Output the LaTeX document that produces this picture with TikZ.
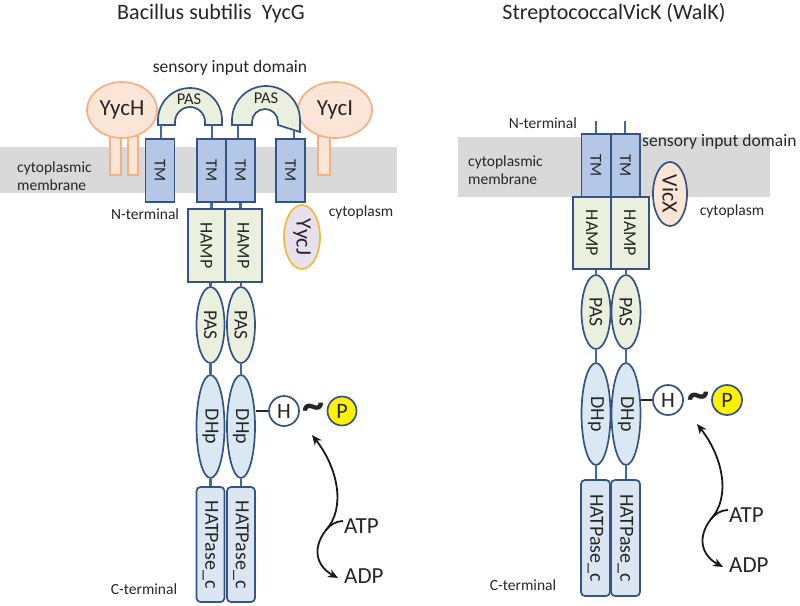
\documentclass[tikz,border=0pt]{standalone}
\usepackage{fontspec}
\setmainfont{Carlito}
\usepackage{graphicx}
\usetikzlibrary{shapes.geometric,arrows.meta}
\definecolor{outl}{RGB}{52,84,132}
\definecolor{connc}{RGB}{62,105,165}
\definecolor{tmfill}{RGB}{180,199,231}
\definecolor{grfill}{RGB}{235,240,222}
\definecolor{dhfill}{RGB}{218,232,243}
\definecolor{hatfill}{RGB}{220,230,242}
\definecolor{memb}{RGB}{217,217,217}
\definecolor{orout}{RGB}{244,177,131}
\definecolor{orfill}{RGB}{251,229,214}
\definecolor{goldout}{RGB}{240,188,50}
\definecolor{lavfill}{RGB}{232,224,236}
\definecolor{txt}{RGB}{38,38,38}
\definecolor{yel}{RGB}{255,242,0}
\newcommand{\rtxt}[1]{\rotatebox{-90}{#1}}
\begin{document}
\begin{tikzpicture}[x=1pt,y=-1pt,
  every node/.style={inner sep=0pt,text=txt},
  shp/.style={draw=outl,line width=1.7pt},
  tmbox/.style={shp,fill=tmfill,rectangle,minimum width=29,minimum height=63,font=\fontsize{16.5}{16.5}\selectfont},
  hampbox/.style={shp,fill=grfill,rectangle,minimum width=37,minimum height=73,font=\fontsize{18}{18}\selectfont},
  pasell/.style={shp,fill=grfill,ellipse,minimum width=28,minimum height=76,font=\fontsize{19.5}{19.5}\selectfont},
  dhpell/.style={shp,fill=dhfill,ellipse,minimum width=28,minimum height=103,font=\fontsize{20}{20}\selectfont},
  hatbox/.style={shp,fill=hatfill,rectangle,rounded corners=4pt,minimum width=28,minimum height=115,font=\fontsize{20}{20}\selectfont},
  circh/.style={shp,fill=white,circle,minimum size=30,font=\fontsize{22}{22}\selectfont},
  circp/.style={shp,fill=yel,circle,minimum size=29,font=\fontsize{22}{22}\selectfont},
  conn/.style={draw=connc,line width=2.6pt},
  hline/.style={draw=black!85,line width=1.6pt},
  orell/.style={draw=orout,fill=orfill,line width=1.7pt,ellipse,font=\fontsize{23}{23}\selectfont},
  orleg/.style={draw=orout,fill=orfill,line width=1.5pt},
  lbl/.style={font=\fontsize{15.5}{15.5}\selectfont,anchor=base},
  bigl/.style={font=\fontsize{17.5}{17.5}\selectfont,anchor=base},
  ttl/.style={font=\fontsize{22}{22}\selectfont,anchor=base},
  rxn/.style={font=\fontsize{23}{23}\selectfont,anchor=base west},
  arr/.style={line width=1.8pt,draw=black!90,{Stealth[length=10pt,width=8.5pt]}-{Stealth[length=10pt,width=8.5pt]}},
  br/.style={line width=1.8pt,draw=black!90},
  tld/.style={font=\fontsize{44}{44}\selectfont\bfseries}
]
\useasboundingbox (0,0) rectangle (800,605);

% ---------- titles ----------
\node[ttl] (t1) at (211,19) {Bacillus subtilis\ \ YycG};
\node[ttl] (t2) at (614,19) {StreptococcalVicK (WalK)};

% ---------- membranes ----------
\fill[memb] (0,147) rectangle (397,193);
\fill[memb] (458,137) rectangle (770,197);

% ============ LEFT: Bacillus subtilis ============
\node[bigl] (sens1) at (230,72.5) {sensory input domain};
\node[lbl,anchor=base west] (cm1) at (17,172) {cytoplasmic};
\node[lbl,anchor=base west] (mb1) at (17,190) {membrane};
\node[lbl] (nt1) at (145,219) {N-terminal};
\node[lbl] (cy1) at (361,216) {cytoplasm};
\node[lbl] (ct1) at (144,594) {C-terminal};

% YycH / YycI legs
\draw[orleg] (110,136) rectangle (121,175);
\draw[orleg] (128,136) rectangle (138,175);
\draw[orleg] (318,136) rectangle (330,175);
\node[orell,minimum width=70,minimum height=56] (ych) at (122,110) {YycH};
\node[orell,minimum width=74,minimum height=56] (yci) at (335,110) {YycI};

% PAS arches (sensory domain)
\draw[shp,fill=grfill] (158,125) -- (158,120) arc[start angle=180,end angle=360,radius=32]
  -- (222,125) -- (205,125) -- (205,122) arc[start angle=360,end angle=180,radius=15]
  -- (175,125) -- cycle;
\node[font=\fontsize{16.5}{16.5}\selectfont] (pasa1) at (189,99) {PAS};
\draw[shp,fill=grfill] (232,125) -- (232,120) arc[start angle=180,end angle=360,radius=34]
  -- (300,132) -- (278,125) -- (278,122) arc[start angle=360,end angle=180,radius=13]
  -- (252,125) -- cycle;
\node[font=\fontsize{16.5}{16.5}\selectfont] (pasa2) at (266,98) {PAS};
\coordinate (a1l) at (161,125);
\coordinate (a1r) at (212,125);
\coordinate (a2l) at (238,125);
\coordinate (a2r) at (294,129);

% TM
\node[tmbox] (tm1) at (160,170.5) {\rtxt{TM}};
\node[tmbox] (tm2) at (211.5,170.5) {\rtxt{TM}};
\node[tmbox] (tm3) at (240.5,170.5) {\rtxt{TM}};
\node[tmbox] (tm4) at (290.5,170.5) {\rtxt{TM}};
\draw[conn] (a1l) -- (a1l |- tm1.north);
\draw[conn] (a1r) -- (a1r |- tm2.north);
\draw[conn] (a2l) -- (a2l |- tm3.north);
\draw[conn] (a2r) -- (a2r |- tm4.north);

% YycJ
\node[draw=goldout,fill=lavfill,line width=1.7pt,ellipse,minimum width=36,minimum height=64,
  font=\fontsize{22}{22}\selectfont] (ycj) at (302,237) {\rtxt{YycJ}};

% HAMP
\node[hampbox] (hp1) at (206.5,245.5) {\rtxt{HAMP}};
\node[hampbox] (hp2) at (243.5,245.5) {\rtxt{HAMP}};
\draw[conn] (tm2.south) -- (tm2.south |- hp1.north);
\draw[conn] (tm3.south) -- (tm3.south |- hp2.north);

% PAS
\node[pasell] (ps1) at (210.5,325) {\rtxt{PAS}};
\node[pasell] (ps2) at (241,325) {\rtxt{PAS}};
\draw[conn] (ps1.north |- hp1.south) -- (ps1.north);
\draw[conn] (ps2.north |- hp2.south) -- (ps2.north);

% DHp
\node[dhpell] (dh1) at (210.5,426.5) {\rtxt{DHp}};
\node[dhpell] (dh2) at (241,426.5) {\rtxt{DHp}};
\draw[conn] (ps1.south) -- (dh1.north);
\draw[conn] (ps2.south) -- (dh2.north);

% HATPase
\node[hatbox] (ha1) at (210.5,544.5) {\rtxt{HATPase\_c}};
\node[hatbox] (ha2) at (241,544.5) {\rtxt{HATPase\_c}};
\draw[conn] (dh1.south) -- (ha1.north);
\draw[conn] (dh2.south) -- (ha2.north);

% H ~ P
\node[circh] (h1) at (284,411) {H};
\node[circp] (p1) at (342,411) {P};
\draw[hline] (dh2.east |- h1.west) -- (h1.west);
\node[tld] (tl1) at (313,411) {\textasciitilde};

% ATP / ADP
\node[rxn] (atp1) at (344,533) {ATP};
\node[rxn] (adp1) at (344,583) {ADP};
\coordinate (r1s) at (312,435);
\coordinate (r1m) at (326,530);
\coordinate (r1e) at (338,578);
\coordinate (r1b) at (343,521);
\draw[arr] (r1s) .. controls (338,468) and (346,508) .. (r1m) .. controls (312,548) and (316,566) .. (r1e);
\draw[br] (r1b) .. controls (336,521) and (330,525) .. (r1m);

% ============ RIGHT: Streptococcal VicK ============
\node[lbl,anchor=base east] (nt2) at (577,128) {N-terminal};
\node[bigl,anchor=base west] (sens2) at (642,146) {sensory input domain};
\node[lbl,anchor=base west] (cm2) at (468,166) {cytoplasmic};
\node[lbl,anchor=base west] (mb2) at (468,184) {membrane};
\node[lbl] (cy2) at (732,215) {cytoplasm};
\node[lbl] (ct2) at (523,590) {C-terminal};

\node[tmbox,minimum height=63] (tmA) at (596,165.5) {\rtxt{TM}};
\node[tmbox,minimum height=63] (tmB) at (625.5,165.5) {\rtxt{TM}};
\coordinate (nA) at (596,121);
\coordinate (nB) at (625,121);
\draw[conn] (nA) -- (nA |- tmA.north);
\draw[conn] (nB) -- (nB |- tmB.north);

\node[draw=outl,fill=orfill,line width=1.7pt,ellipse,minimum width=34,minimum height=64,
  font=\fontsize{22}{22}\selectfont] (vicx) at (670,194) {\rtxt{VicX}};

\node[hampbox,minimum width=38,minimum height=72] (hpA) at (592,233) {\rtxt{HAMP}};
\node[hampbox,minimum width=38,minimum height=72] (hpB) at (630,233) {\rtxt{HAMP}};

\node[pasell,minimum width=29,minimum height=74] (psA) at (596,312) {\rtxt{PAS}};
\node[pasell,minimum width=29,minimum height=74] (psB) at (626,312) {\rtxt{PAS}};
\draw[conn] (psA.north |- hpA.south) -- (psA.north);
\draw[conn] (psB.north |- hpB.south) -- (psB.north);

\node[dhpell,minimum width=29,minimum height=102] (dhA) at (596,414) {\rtxt{DHp}};
\node[dhpell,minimum width=29,minimum height=102] (dhB) at (626,414) {\rtxt{DHp}};
\draw[conn] (psA.south) -- (dhA.north);
\draw[conn] (psB.south) -- (dhB.north);

\node[hatbox,minimum width=29,minimum height=116] (haA) at (595.5,538) {\rtxt{HATPase\_c}};
\node[hatbox,minimum width=29,minimum height=116] (haB) at (625.5,538) {\rtxt{HATPase\_c}};
\draw[conn] (dhA.south) -- (dhA.south |- haA.north);
\draw[conn] (dhB.south) -- (dhB.south |- haB.north);

\node[circh] (h2) at (668,400) {H};
\node[circp,minimum size=30] (p2) at (727,400) {P};
\draw[hline] (dhB.east |- h2.west) -- (h2.west);
\node[tld] (tl2) at (698,400) {\textasciitilde};

\begin{scope}[shift={(385,-11)}]
\node[rxn] (atp2) at (344,533) {ATP};
\node[rxn] (adp2) at (344,583) {ADP};
\coordinate (r2s) at (312,435);
\coordinate (r2m) at (326,530);
\coordinate (r2e) at (338,578);
\coordinate (r2b) at (343,521);
\draw[arr] (r2s) .. controls (338,468) and (346,508) .. (r2m) .. controls (312,548) and (316,566) .. (r2e);
\draw[br] (r2b) .. controls (336,521) and (330,525) .. (r2m);
\end{scope}
\end{tikzpicture}
\end{document}
